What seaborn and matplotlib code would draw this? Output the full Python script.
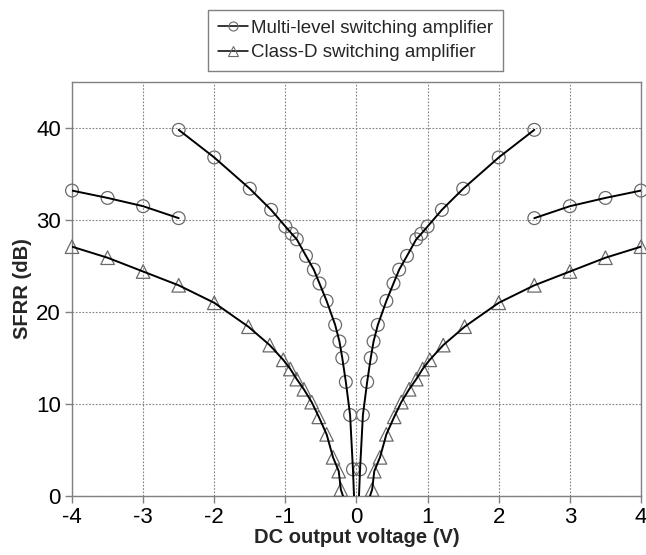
import numpy as np
import pandas as pd
import matplotlib
matplotlib.use("Agg")
import matplotlib.pyplot as plt
from matplotlib.lines import Line2D
import seaborn as sns

# ---- data ----
# Multi-level switching amplifier, inner branch (|V|, dB)
ml_inner_v = [0.05, 0.09, 0.15, 0.20, 0.24, 0.30, 0.42, 0.52, 0.60, 0.71, 0.84, 0.91, 1.0, 1.2, 1.5, 2.0, 2.5]
ml_inner_db = [2.9, 8.8, 12.4, 15.0, 16.8, 18.6, 21.2, 23.1, 24.6, 26.1, 27.9, 28.5, 29.3, 31.1, 33.4, 36.8, 39.8]
# Multi-level switching amplifier, outer branch
ml_outer_v = [2.5, 3.0, 3.5, 4.0]
ml_outer_db = [30.2, 31.5, 32.4, 33.2]
# Class-D switching amplifier
cd_v = [0.22, 0.25, 0.33, 0.42, 0.53, 0.63, 0.74, 0.84, 0.93, 1.03, 1.22, 1.52, 2.0, 2.5, 3.0, 3.5, 4.0]
cd_db = [0.7, 2.7, 4.2, 6.7, 8.6, 10.2, 11.6, 12.7, 13.8, 14.8, 16.4, 18.4, 21.0, 22.9, 24.4, 25.9, 27.1]
# voltage where the fitted curves reach 0 dB
ml_zero_v = 0.035
cd_zero_v = 0.19

x_ticks = [-4, -3, -2, -1, 0, 1, 2, 3, 4]
y_ticks = [0, 10, 20, 30, 40]
labels = ["Multi-level switching amplifier", "Class-D switching amplifier"]

# ---- style ----
sns.set_theme(style="white")
plt.rcParams['font.family'] = ['Liberation Sans', 'DejaVu Sans']

fig = plt.figure(figsize=(6.46, 5.55), dpi=100)
ax = fig.add_axes([72/646, 1-496/555, (641-72)/646, (496-82)/555])

gray = "#808080"
mk_edge = "#6a6a6a"
line_kw = dict(color="black", linewidth=1.4, estimator=None, zorder=4, legend=False)

for sign in (-1, 1):
    # lines
    lx = [sign * ml_zero_v] + [sign * v for v in ml_inner_v]
    ly = [0.0] + ml_inner_db
    sns.lineplot(x=lx, y=ly, ax=ax, sort=False, **line_kw)
    sns.lineplot(x=[sign * v for v in ml_outer_v], y=ml_outer_db, ax=ax, sort=False, **line_kw)
    lx = [sign * cd_zero_v] + [sign * v for v in cd_v]
    ly = [0.0] + cd_db
    sns.lineplot(x=lx, y=ly, ax=ax, sort=False, **line_kw)
    # markers
    sns.scatterplot(x=[sign * v for v in ml_inner_v + ml_outer_v], y=ml_inner_db + ml_outer_db,
                    ax=ax, marker="o", s=85, facecolor="none", edgecolor=mk_edge,
                    linewidth=0.9, zorder=3, legend=False, clip_on=False)
    sns.scatterplot(x=[sign * v for v in cd_v], y=cd_db,
                    ax=ax, marker="^", s=95, facecolor="none", edgecolor=mk_edge,
                    linewidth=0.9, zorder=3, legend=False, clip_on=False)

ax.set_xlim(-4, 4)
ax.set_ylim(0, 45)
ax.set_xticks(x_ticks)
ax.set_xticklabels([str(t) for t in x_ticks])
ax.set_yticks(y_ticks)
ax.set_yticklabels([str(t) for t in y_ticks])

ax.grid(True, linestyle=(0, (1.5, 1.5)), color=gray, linewidth=0.8)
ax.set_axisbelow(True)
for sp in ax.spines.values():
    sp.set_color(gray)
    sp.set_linewidth(1.0)
    sp.set_visible(True)
ax.tick_params(axis="both", which="major", direction="out", length=5, width=1.0,
               color=gray, labelsize=16, labelcolor="black", pad=3,
               bottom=True, left=True)

ax.set_xlabel("DC output voltage (V)", fontsize=14.5, fontweight="bold", labelpad=0)
ax.set_ylabel("SFRR (dB)", fontsize=14.5, fontweight="bold", labelpad=3)

handles = [
    Line2D([0], [0], color="black", linewidth=1.1, marker="o", markersize=6.5,
           markerfacecolor="none", markeredgecolor=mk_edge, markeredgewidth=0.8),
    Line2D([0], [0], color="black", linewidth=1.1, marker="^", markersize=7,
           markerfacecolor="none", markeredgecolor=mk_edge, markeredgewidth=0.8),
]
leg = fig.legend(handles, labels, loc="center", bbox_to_anchor=(355.5/646, 1-40.5/555),
                 fontsize=13.5, frameon=True, fancybox=False, handlelength=1.6,
                 handletextpad=0.2, borderpad=0.5, labelspacing=0.4, borderaxespad=0)
leg.get_frame().set_edgecolor(gray)
leg.get_frame().set_linewidth(1.0)
leg.get_frame().set_alpha(1)

fig.savefig("out.png", dpi=100)
